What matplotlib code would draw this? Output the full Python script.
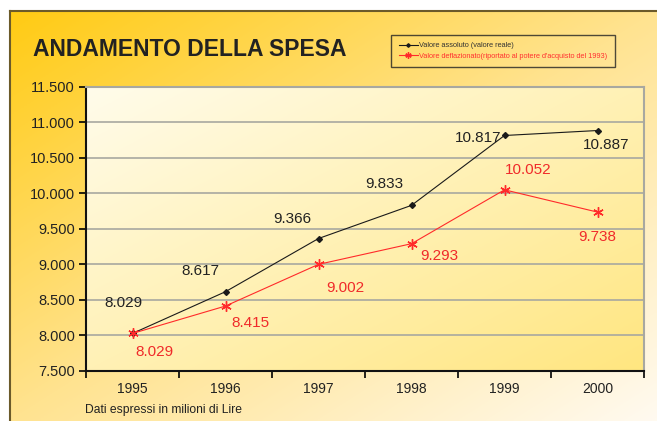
import numpy as np
import matplotlib.pyplot as plt
from matplotlib.colors import LinearSegmentedColormap

plt.rcParams["font.family"] = ["Liberation Sans", "DejaVu Sans"]

anni = ["1995", "1996", "1997", "1998", "1999", "2000"]
valore_assoluto = [8029, 8617, 9366, 9833, 10817, 10887]
valore_deflazionato = [8029, 8415, 9002, 9293, 10052, 9738]

# offset (pixel) delle etichette rispetto ai punti
off_assoluto = [(-9, 30), (-25, 21), (-26, 20), (-27, 21), (-26, -3), (9, -14)]
off_deflazionato = [(22, -19), (25, -17), (27, -24), (28, -12), (24, 20), (0, -25)]

W, H = 657, 421
fig = plt.figure(figsize=(W / 100, H / 100), dpi=100)
fig.patch.set_facecolor("white")


def gradiente(ax, c0, c1, c2, n=200):
    cmap = LinearSegmentedColormap.from_list("g", [c0, c1, c2])
    x = np.linspace(0, 1, n)
    y = np.linspace(0, 1, n)
    X, Y = np.meshgrid(x, y)
    Z = (X + Y) / 2
    ax.imshow(Z, cmap=cmap, extent=(0, 1, 0, 1), transform=ax.transAxes,
              aspect="auto", origin="upper", zorder=0, interpolation="bilinear")


# sfondo del riquadro esterno
bg = fig.add_axes([10 / W, 0, (W - 10) / W, (H - 11) / H])
gradiente(bg, "#FFCB14", "#FFE390", "#FFFAF0")
bg.set_xlim(0, 1)
bg.set_ylim(0, 1)
bg.set_xticks([])
bg.set_yticks([])
for s in ["right", "bottom"]:
    bg.spines[s].set_visible(False)
for s in ["left", "top"]:
    bg.spines[s].set_color("#6b5a2a")
    bg.spines[s].set_linewidth(1.5)

# area del grafico
x0, x1, y0, y1 = 86, 644, 87, 371
ax = fig.add_axes([x0 / W, (H - y1) / H, (x1 - x0) / W, (y1 - y0) / H])
gradiente(ax, "#FFFCEB", "#FFF1B5", "#FFE680")

x = np.arange(len(anni))
ax.plot(x, valore_assoluto, color="#1a1a1a", lw=0.8, marker="D", ms=3.0,
        zorder=4, label="Valore assoluto (valore reale)")
ax.plot(x, valore_deflazionato, color="#ff2a2a", lw=0.8, marker=(6, 2, 0),
        ms=7.5, mew=1.0, zorder=4,
        label="Valore deflazionato(riportato al potere d'acquisto del 1993)")

for xi, v, off in zip(x, valore_assoluto, off_assoluto):
    ax.annotate(f"{v:,}".replace(",", "."), (xi, v), xytext=off,
                textcoords="offset pixels", ha="center", va="center",
                fontsize=11, color="#222222", zorder=5)
for xi, v, off in zip(x, valore_deflazionato, off_deflazionato):
    ax.annotate(f"{v:,}".replace(",", "."), (xi, v), xytext=off,
                textcoords="offset pixels", ha="center", va="center",
                fontsize=11, color="#f02a2a", zorder=5)

ax.set_xlim(-0.5, len(anni) - 0.5)
ax.set_ylim(7500, 11500)
yt = np.arange(7500, 11501, 500)
ax.set_yticks(yt)
ax.set_yticklabels([f"{v:,}".replace(",", ".") for v in yt], fontsize=10.5, color="#222222")
ax.set_xticks(np.arange(-0.5, len(anni), 1))
ax.set_xticklabels([])
ax.set_xticks(x, minor=True)
ax.set_xticklabels(anni, minor=True, fontsize=10, color="#222222")
ax.tick_params(axis="x", which="minor", length=0, pad=8)
ax.tick_params(axis="x", which="major", length=5, width=1.2, direction="out")
ax.tick_params(axis="y", length=5, width=1.2, direction="out", pad=3)

ax.yaxis.grid(True, color="#a8a8a0", lw=1.2, zorder=1)
ax.set_axisbelow(True)
ax.spines["left"].set_color("#111111")
ax.spines["left"].set_linewidth(1.5)
ax.spines["bottom"].set_color("#111111")
ax.spines["bottom"].set_linewidth(1.5)
ax.spines["top"].set_color("#a8a8a0")
ax.spines["top"].set_linewidth(1.5)
ax.spines["right"].set_color("#a8a8a0")
ax.spines["right"].set_linewidth(1.5)

fig.text(33 / W, 1 - 50 / H, "ANDAMENTO DELLA SPESA", fontsize=16.5,
         fontweight="bold", color="#222222", va="center", ha="left")
fig.text(85 / W, 1 - 410 / H, "Dati espressi in milioni di Lire", fontsize=8.7,
         color="#222222", va="center", ha="left")

leg = fig.legend(loc="center", bbox_to_anchor=(503 / W, 1 - 51 / H), fontsize=5.3,
                 frameon=True, fancybox=False, edgecolor="#222222", facecolor="none",
                 handlelength=2.6, borderpad=1.0, labelspacing=0.5, handletextpad=0.2,
                 markerscale=0.6)
leg.get_frame().set_linewidth(1.0)
leg.get_texts()[0].set_color("#333333")
leg.get_texts()[1].set_color("#ff3030")

fig.savefig("out.png", dpi=100)
